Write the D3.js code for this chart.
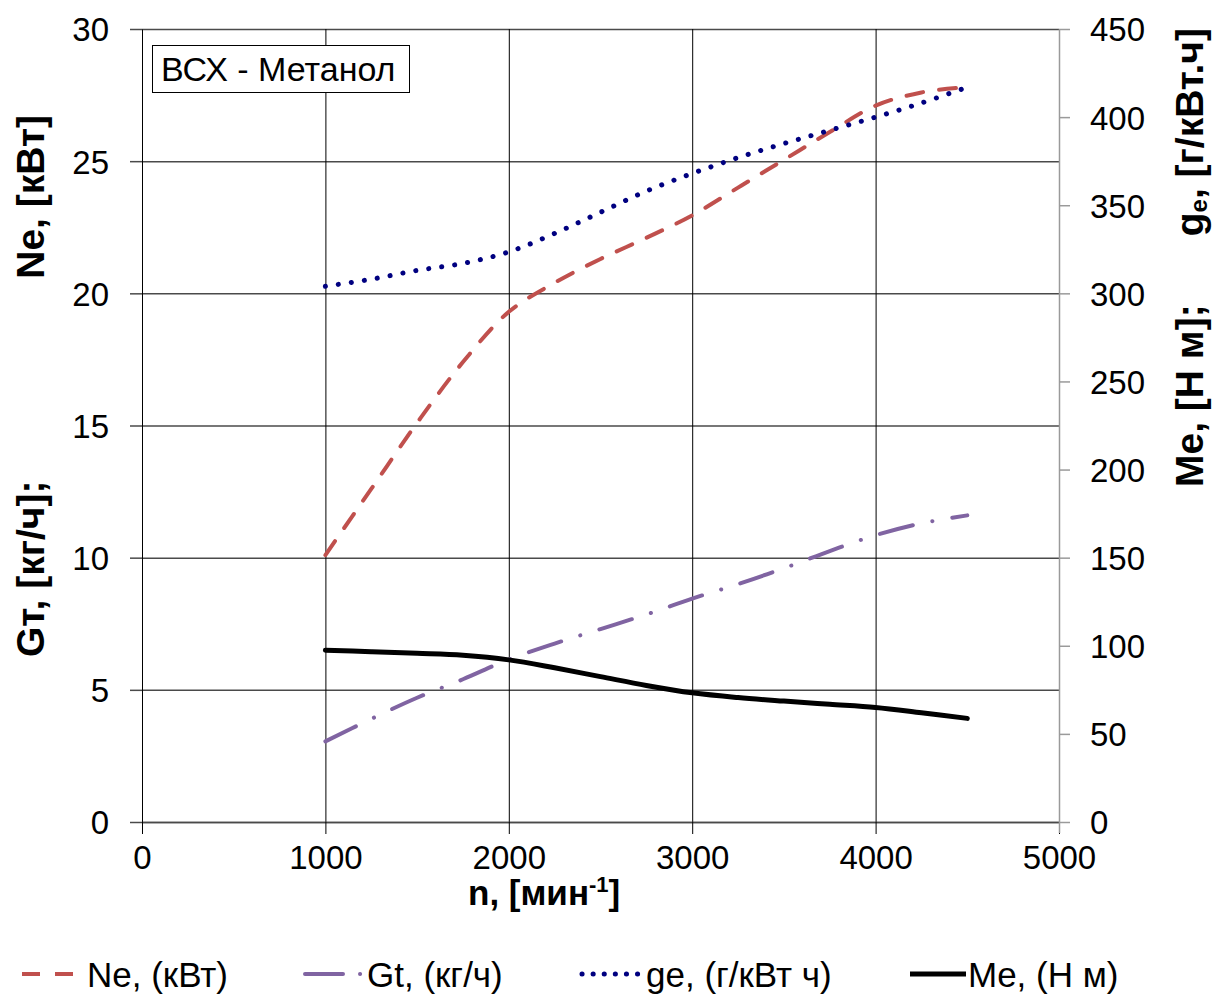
<!DOCTYPE html>
<html><head><meta charset="utf-8">
<script src="https://cdn.jsdelivr.net/npm/d3@7"></script>
<style>body{margin:0;background:#fff} text{font-family:"Liberation Sans",Arial,sans-serif;fill:#000}</style>
</head><body><svg id="c" width="1216" height="994"></svg>
<script>
// ---- data ----
const rpm = [1000,1250,1500,1750,2000,2250,2500,2750,3000,3250,3500,3750,4000,4250,4500];
const Ne  = [10.1,12.6,15.1,17.4,19.3,20.4,21.3,22.1,22.95,24.0,25.05,26.1,27.1,27.6,27.8];
const Gt  = [3.05,3.9,4.7,5.4,6.15,6.75,7.3,7.85,8.45,9.0,9.6,10.25,10.85,11.3,11.6];
const ge  = [304,308,313,317,323.5,334,346,358,368,377,385,392.5,400,408,417];
const Me  = [97.5,96.6,95.7,94.6,92,87.5,82.5,77.5,73.3,70.6,68.6,66.8,65,62,58.8];
const xTicks = [0,1000,2000,3000,4000,5000];
const yLeftTicks = [0,5,10,15,20,25,30];
const yRightTicks = [0,50,100,150,200,250,300,350,400,450];
const seriesNames = ["Ne, (кВт)","Gt, (кг/ч)","ge, (г/кВт ч)","Me, (Н м)"];
const chartTitle = "ВСХ - Метанол";

// ---- layout ----
const L=142,R=1059,T=29,B=822;
const svg=d3.select('#c');
const x=d3.scaleLinear([0,5000],[L,R]);
const yL=d3.scaleLinear([0,30],[B,T]);
const yR=d3.scaleLinear([0,450],[B,T]);
const ff='"Liberation Sans",Arial,sans-serif';

// gridlines
const gh=svg.append('g').attr('transform',`translate(${L},0)`)
  .call(d3.axisLeft(yL).tickValues(yLeftTicks).tickSize(-(R-L)).tickFormat(''));
gh.select('.domain').remove();
gh.selectAll('line').attr('stroke','#4a4a4a').attr('stroke-width',1.5);
const gv=svg.append('g').attr('transform',`translate(0,${B})`)
  .call(d3.axisBottom(x).tickValues([1000,2000,3000,4000]).tickSize(-(B-T)).tickFormat(''));
gv.select('.domain').remove();
gv.selectAll('line').attr('stroke','#000').attr('stroke-width',1);

// left axis
const al=svg.append('g').attr('transform',`translate(${L},0)`)
  .call(d3.axisLeft(yL).tickValues(yLeftTicks).tickFormat(d3.format('d')).tickSize(12).tickSizeOuter(0).tickPadding(21));
al.select('.domain').attr('stroke','#000').attr('stroke-width',1);
al.selectAll('line').attr('stroke','#4a4a4a').attr('stroke-width',1.5);
al.selectAll('text').attr('font-size',33).attr('dy','0.36em').style('font-family',ff);

// bottom axis
const ab=svg.append('g').attr('transform',`translate(0,${B})`)
  .call(d3.axisBottom(x).tickValues(xTicks).tickFormat(d3.format('d')).tickSize(12).tickSizeOuter(0));
ab.select('.domain').attr('stroke','#4a4a4a').attr('stroke-width',1.5);
ab.selectAll('line').attr('stroke','#000').attr('stroke-width',1);
ab.selectAll('text').attr('font-size',33).attr('y',47).attr('dy',0).style('font-family',ff);

// right axis
const ar=svg.append('g').attr('transform',`translate(${R},0)`)
  .call(d3.axisRight(yR).tickValues(yRightTicks).tickFormat(d3.format('d')).tickSize(11).tickSizeOuter(0).tickPadding(20));
ar.select('.domain').attr('stroke','#9a9a9a').attr('stroke-width',1.5).attr('d',`M0.5,${T}V${B+11}`);
ar.selectAll('line').attr('stroke','#9a9a9a').attr('stroke-width',1.5);
ar.selectAll('text').attr('font-size',33).attr('dy','0.36em').style('font-family',ff);

// axis titles
svg.append('text').attr('x',468).attr('y',905).attr('font-size',35).attr('font-weight','bold')
  .call(t=>{t.append('tspan').text('n, [мин');
            t.append('tspan').attr('font-size',22).attr('dy',-13).text('-1');
            t.append('tspan').attr('dy',13).text(']');});
svg.append('text').attr('transform','translate(44,657) rotate(-90)').attr('font-size',39).attr('font-weight','bold').text('Gт, [кг/ч];');
svg.append('text').attr('transform','translate(44,115) rotate(-90)').attr('text-anchor','end').attr('font-size',39).attr('font-weight','bold').text('Ne, [кВт]');
svg.append('text').attr('transform','translate(1203,487) rotate(-90)').attr('font-size',39).attr('font-weight','bold').text('Me, [Н м];');
svg.append('text').attr('transform','translate(1203,28) rotate(-90)').attr('text-anchor','end').attr('font-size',39).attr('font-weight','bold')
  .call(t=>{t.append('tspan').text('g');
            t.append('tspan').attr('font-size',24).attr('dy',4).text('e');
            t.append('tspan').attr('dy',-4).text(', [г/кВт.ч]');});

// series
const styles=[
  {vals:Ne, y:yL, color:'#C0504D', w:4, dash:'17,16', cap:'round'},
  {vals:Gt, y:yL, color:'#8064A2', w:4, dash:'34,20,0.1,20', cap:'round'},
  {vals:ge, y:yR, color:'#000080', w:5, dash:'0.1,13', cap:'round'},
  {vals:Me, y:yR, color:'#000000', w:5, dash:null, cap:'round'}
];
styles.forEach(s=>{
  const line=d3.line().x((d,i)=>x(rpm[i])).y(d=>s.y(d)).curve(d3.curveCatmullRom.alpha(0.5));
  svg.append('path').attr('d',line(s.vals)).attr('fill','none').attr('stroke',s.color)
    .attr('stroke-width',s.w).attr('stroke-dasharray',s.dash).attr('stroke-linecap',s.cap).attr('stroke-linejoin','round');
});

// title box
svg.append('rect').attr('x',152.5).attr('y',45.5).attr('width',257).attr('height',47).attr('fill','#fff').attr('stroke','#000').attr('stroke-width',1);
svg.append('text').attr('x',161).attr('y',81).attr('font-size',34).text(chartTitle);

// legend
const leg=[
  {x1:22,x2:75,dash:'18,15',cap:'butt',tx:87},
  {x1:305,x2:362,dash:'38,17,0.1,20',cap:'round',tx:367},
  {x1:582,x2:640,dash:'0.1,11',cap:'round',tx:646},
  {x1:910,x2:966,dash:null,cap:'butt',tx:968}
];
leg.forEach((l,i)=>{
  const s=styles[i];
  svg.append('line').attr('x1',l.x1).attr('x2',l.x2).attr('y1',974).attr('y2',974)
    .attr('stroke',s.color).attr('stroke-width',s.w).attr('stroke-dasharray',l.dash).attr('stroke-linecap',l.cap);
  svg.append('text').attr('x',l.tx).attr('y',987).attr('font-size',35).text(seriesNames[i]);
});
</script></body></html>
